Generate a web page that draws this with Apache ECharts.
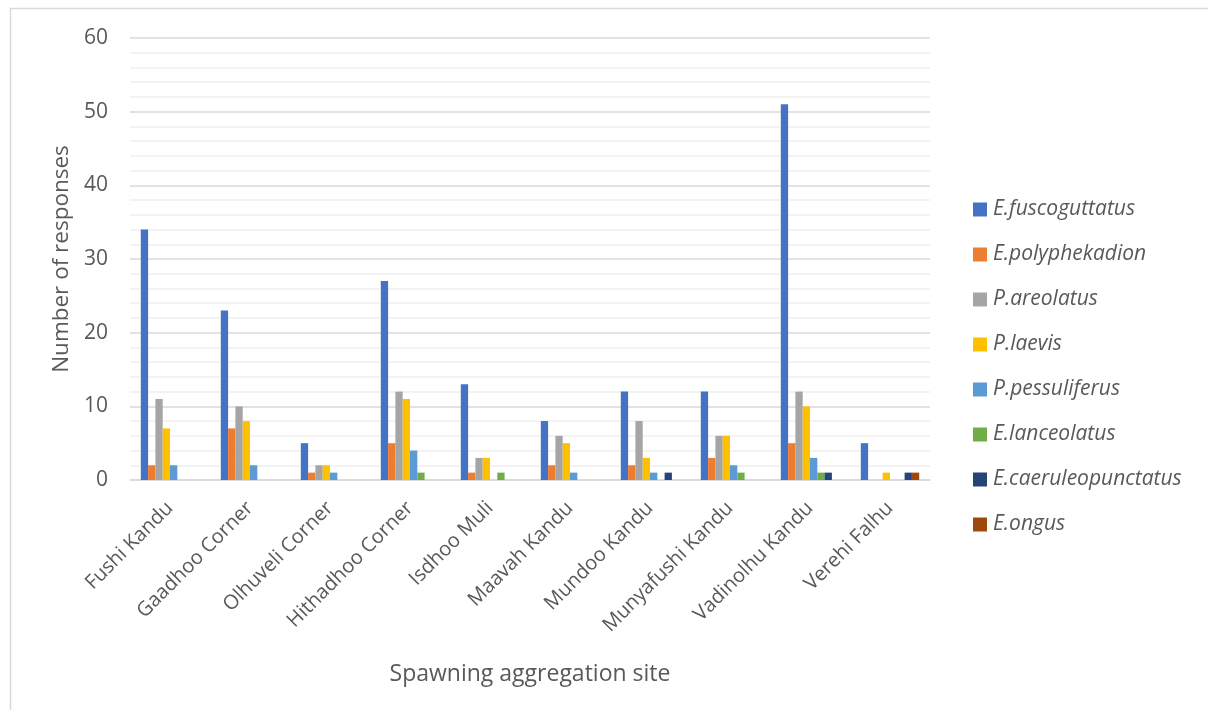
<!DOCTYPE html>
<html><head><meta charset="utf-8">
<script src="https://cdn.jsdelivr.net/npm/echarts@6/dist/echarts.min.js"></script>
<style>html,body{margin:0;padding:0;background:#fff}#c{width:1208px;height:710px}</style>
</head><body><div id="c"></div>
<script>
const categories = ['Fushi Kandu','Gaadhoo Corner','Olhuveli Corner','Hithadhoo Corner','Isdhoo Muli','Maavah Kandu','Mundoo Kandu','Munyafushi Kandu','Vadinolhu Kandu','Verehi Falhu'];
const seriesNames = ['E.fuscoguttatus','E.polyphekadion','P.areolatus','P.laevis','P.pessuliferus','E.lanceolatus','E.caeruleopunctatus','E.ongus'];
const fuscoguttatus      = [34,23,5,27,13,8,12,12,51,5];
const polyphekadion      = [2,7,1,5,1,2,2,3,5,0];
const areolatus          = [11,10,2,12,3,6,8,6,12,0];
const laevis             = [7,8,2,11,3,5,3,6,10,1];
const pessuliferus       = [2,2,1,4,0,1,1,2,3,0];
const lanceolatus        = [0,0,0,1,1,0,0,1,1,0];
const caeruleopunctatus  = [0,0,0,0,0,0,1,0,1,1];
const ongus              = [0,0,0,0,0,0,0,0,0,1];
const seriesData = [fuscoguttatus,polyphekadion,areolatus,laevis,pessuliferus,lanceolatus,caeruleopunctatus,ongus];
const colors = ['#4472C4','#ED7D31','#A5A5A5','#FFC000','#5B9BD5','#70AD47','#264478','#9E480E'];
const font = '"Open Sans", sans-serif';

const chart = echarts.init(document.getElementById('c'));
chart.setOption({
  animation:false,
  color: colors,
  graphic:[{type:'rect',shape:{x:10.5,y:8.5,width:1300,height:800},style:{fill:'none',stroke:'#d9d9d9',lineWidth:1.5},silent:true,z:-1}],
  grid:{left:130,right:278,top:38,bottom:230},
  legend:{
    orient:'vertical', left:968, top:194, itemGap:24,
    itemWidth:14, itemHeight:14, icon:'rect',
    textStyle:{fontFamily:font,fontSize:21,fontStyle:'italic',color:'#595959',padding:[0,0,0,1]},
    data: seriesNames
  },
  xAxis:{
    type:'category', data:categories,
    axisLine:{lineStyle:{color:'#d9d9d9',width:1.5}},
    axisTick:{show:false},
    axisLabel:{rotate:45,interval:0,fontFamily:font,fontSize:20,color:'#595959',margin:25},
    name:'Spawning aggregation site', nameLocation:'middle', nameGap:183,
    nameTextStyle:{fontFamily:font,fontSize:23,color:'#595959'}
  },
  yAxis:{
    type:'value', min:0, max:60, interval:10,
    axisLine:{show:false}, axisTick:{show:false},
    axisLabel:{fontFamily:font,fontSize:21,color:'#595959',margin:22},
    splitLine:{lineStyle:{color:'#d9d9d9',width:1.5}},
    minorTick:{show:false,splitNumber:5},
    minorSplitLine:{show:true,lineStyle:{color:'#f0f0f0',width:1.5}},
    name:'Number of responses', nameLocation:'middle', nameGap:56,
    nameTextStyle:{fontFamily:font,fontSize:22.5,color:'#595959'}
  },
  series: seriesNames.map((n,i)=>({
    name:n, type:'bar', data:seriesData[i],
    barGap:'0%', barCategoryGap:'27%'
  }))
});
</script></body></html>
